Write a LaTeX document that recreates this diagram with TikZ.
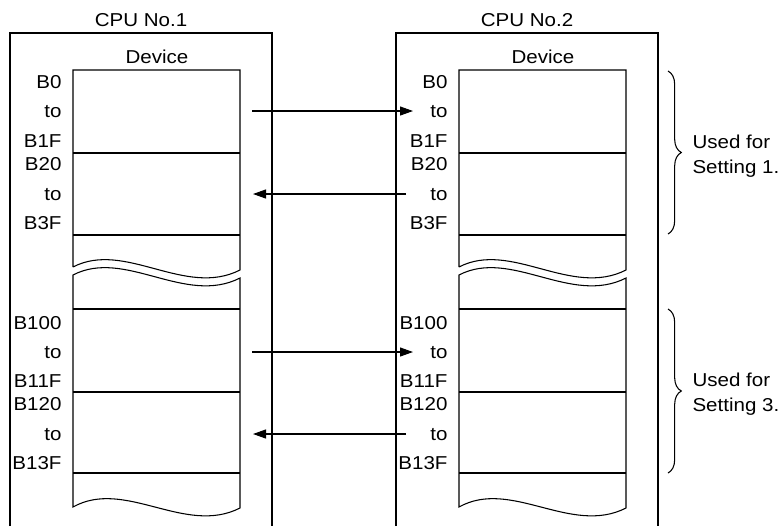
\documentclass[tikz,border=0pt]{standalone}
\usepackage{fontspec}
\setmainfont{Liberation Sans}[FakeStretch=1.1]
\usetikzlibrary{arrows.meta,decorations.pathreplacing}

\begin{document}
\begin{tikzpicture}[x=0.75pt,y=-0.75pt,line width=0.8pt,
    every node/.style={font=\fontsize{14}{18.75}\selectfont},
    reglabel/.style={anchor=east,inner sep=0pt,text height=10pt,text depth=0pt},
    linkarrow/.style={-{Triangle[length=9.75pt,width=6.75pt]}},
    setbrace/.style={decorate,decoration={brace,amplitude=10pt}}]

  % Keep the frame at the size of the reference
  \useasboundingbox (0,0) rectangle (782,526);

  % The two CPUs are drawn the same way, side by side
  \foreach \n/\dx in {1/0,2/386} {
    \begin{scope}[shift={(\dx,0)}]
      % Outer CPU frame, open at the bottom
      \draw (10,526) -- (10,33) -- (272,33) -- (272,526);
      \node (cpu\n) at (141,20) {CPU No.\n};
      \node (dev\n) at (157,57) {Device};

      % Upper part of the device table, cut off by a wave
      \draw (73,267) -- (73,70) -- (240,70) -- (240,270)
        .. controls (185,298) and (125,240) .. (73,267);
      \draw (73,153) -- (240,153);
      \draw (73,235) -- (240,235);

      % Lower part of the device table, between two waves
      \draw (73,275) .. controls (125,248) and (185,306) .. (240,278)
        -- (240,508) .. controls (185,536) and (125,478) .. (73,507) -- cycle;
      \draw (73,309) -- (240,309);
      \draw (73,392) -- (240,392);
      \draw (73,473) -- (240,473);

      % Device numbers on the left of each table
      \foreach \txt/\y in {B0/82,to/111,B1F/141,B20/164,to/194,B3F/223,
                          B100/323,to/352,B11F/381,B120/404,to/434,B13F/463}
        \node[reglabel] (lbl\n-\y) at (62,\y) {\txt};
    \end{scope}
  }

  % Arrow ends between the two CPUs
  \coordinate (a1s) at (252,111); \coordinate (a1e) at (413,111);
  \coordinate (a2s) at (406,194); \coordinate (a2e) at (253,194);
  \coordinate (a3s) at (252,352); \coordinate (a3e) at (413,352);
  \coordinate (a4s) at (406,434); \coordinate (a4e) at (253,434);
  \draw[linkarrow] (a1s) -- (a1e);
  \draw[linkarrow] (a2s) -- (a2e);
  \draw[linkarrow] (a3s) -- (a3e);
  \draw[linkarrow] (a4s) -- (a4e);

  % Braces for the two settings
  \coordinate (s1t) at (668,71);  \coordinate (s1b) at (668,234);
  \coordinate (s3t) at (668,309); \coordinate (s3b) at (668,473);
  \draw[setbrace] (s1t) -- (s1b);
  \draw[setbrace] (s3t) -- (s3b);
  \node[anchor=west,align=left,inner sep=0pt] (set1) at (692,156) {Used for\\Setting 1.};
  \node[anchor=west,align=left,inner sep=0pt] (set3) at (692,394) {Used for\\Setting 3.};

\end{tikzpicture}
\end{document}
